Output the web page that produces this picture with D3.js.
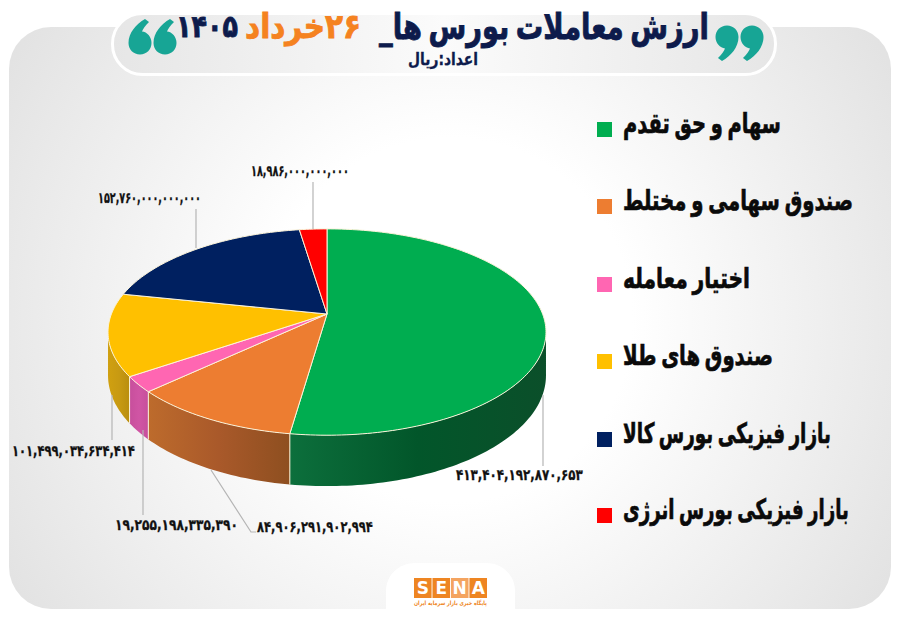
<!DOCTYPE html>
<html><head><meta charset="utf-8">
<script src="https://cdn.jsdelivr.net/npm/d3@7/dist/d3.min.js"></script>
<style>html,body{margin:0;background:#fff}svg{display:block}
text{font-family:"DejaVu Sans",sans-serif;font-weight:700}
.fa{direction:rtl;text-anchor:end}</style></head><body><svg id="c" width="900" height="623"></svg>
<script>
const categories=["سهام و حق تقدم","صندوق سهامی و مختلط","اختیار معامله","صندوق های طلا","بازار فیزیکی بورس کالا","بازار فیزیکی بورس انرژی"];
const values=[413404192870653,84906291902994,19255198335390,101499034634414,152760000000000,18986000000000];
const sliceColors=["#00ad50","#ed7d31","#ff66b2","#ffc000","#002060","#ff0000"];
const wallStops=[["#0c6f3c","#02562a","#0b4f2a"],["#bd6b2c","#a9592a","#8e4f20"],["#c74f9c","#d055a4","#c74f9c"],["#d0a010","#c89a12","#b98e0e"],["#002060","#002060","#002060"],["#c00","#c00","#c00"]];
const legendWidths=[158,230,127,150,208,226];
const legendTops=[122,199,277,354,432,508];
// label layout: text left, baseline, width, leader polyline
const labelBoxes=[
 {x:456,y:480,w:127,line:[[543,395],[543,466]]},
 {x:257,y:532,w:116,line:[[211,470],[251,532],[256,532]]},
 {x:115,y:530,w:123,line:[[143,430],[143,515]]},
 {x:12,y:456,w:123,line:[[112,395],[112,440]]},
 {x:98,y:203,w:103,line:[[196,209],[196,248]]},
 {x:251,y:176,w:98,line:[[313,182],[313,229]]}];

const svg=d3.select("#c"),defs=svg.append("defs");
const faDigits=s=>s.replace(/\d/g,d=>"۰۱۲۳۴۵۶۷۸۹"[+d]);
// fit a text to a width by horizontal scaling about its left edge
const fit=(sel,x,y,w)=>{const k=w/sel.node().getComputedTextLength();
 sel.attr("x",0).attr("y",0).attr("transform",`translate(${x},${y}) scale(${k},1)`);return sel;};

const bg=defs.append("radialGradient").attr("id","bg").attr("gradientUnits","userSpaceOnUse")
 .attr("cx",450).attr("cy",320).attr("r",520);
bg.append("stop").attr("offset",.35).attr("stop-color","#ffffff");
bg.append("stop").attr("offset",1).attr("stop-color","#e2e2e2");
svg.append("rect").attr("x",9).attr("y",27).attr("width",882).attr("height",582).attr("rx",42).attr("fill","url(#bg)");

// title pill
const pg=defs.append("linearGradient").attr("id","pill");
pg.append("stop").attr("offset",0).attr("stop-color","#e6e6e6");
pg.append("stop").attr("offset",.5).attr("stop-color","#fbfbfb");
pg.append("stop").attr("offset",1).attr("stop-color","#e6e6e6");
svg.append("rect").attr("x",112.5).attr("y",13.5).attr("width",663).attr("height",61).attr("rx",30)
 .attr("fill","url(#pill)").attr("stroke","#fff").attr("stroke-width",3);
const comma="M0,-11.5C6.5,-11.5 11.5,-6.5 11.5,0C11.5,10 4,19 -5,24L-9,21C-5,17 -3,14 -2,11.4C-7,11 -11.5,6 -11.5,0C-11.5,-6.5 -6.5,-11.5 0,-11.5Z";
[[727,37,0],[752,37,0],[140,43,180],[165,43,180]].forEach(([x,y,r])=>
 svg.append("path").attr("d",comma).attr("transform",`translate(${x},${y}) rotate(${r})`).attr("fill","#17a595"));
const t=(s,x,y,w,size,col,sw,ws)=>fit(svg.append("text").attr("class","fa").attr("font-size",size)
 .attr("fill",col).attr("stroke",col).attr("stroke-width",sw).style("word-spacing",(ws||0)+"px").text(s),x,y,w);
t("ارزش معاملات بورس ها_",379,39,330,36,"#0d1b4c",.9,-4);
t("۲۶خرداد",245,38,116,34,"#f58220",.9);
t("۱۴۰۵",176,37,62,31,"#0d1b4c",.9);
t("اعداد:ریال",408,65,70,17,"#0d1b4c",.3);

// pie with perspective
const p=0.175, cx=327, cy=314, depth=42;
const xS=d3.scaleLinear().domain([-1,1]).range([cx-215.6,cx+215.6]);
const yS=d3.scaleLinear().domain([-1,1]).range([cy-100,cy+100]);
const proj=(a,r,dz)=>{const u=r*Math.sin(a),v=-r*Math.cos(a),s=1/(1-p*v);
 return [cx+(xS(u)-cx)*s, cy+(yS(v)-cy)*s+dz*s];};
const pieGen=d3.pie().sort(null).value(d=>d);
const arcs=pieGen(values);
const line=d3.line();
const sample=(a0,a1)=>{const n=Math.max(2,Math.ceil((a1-a0)/0.02));return d3.range(n+1).map(i=>a0+(a1-a0)*i/n);};
const edge="#fbf3d9";
const visA0=Math.acos(-p), visA1=2*Math.PI-visA0;

arcs.forEach((d,i)=>{
 const a0=Math.max(d.startAngle,visA0),a1=Math.min(d.endAngle,visA1);
 if(a1<=a0)return;
 const g=defs.append("linearGradient").attr("id","w"+i);
 wallStops[i].forEach((c,j)=>g.append("stop").attr("offset",j/2).attr("stop-color",c));
 const as=sample(a0,a1);
 const pts=as.map(a=>proj(a,1,0)).concat(as.slice().reverse().map(a=>proj(a,1,depth)));
 svg.append("path").attr("d",line(pts)+"Z").attr("fill",`url(#w${i})`);
 svg.append("path").attr("d",line([proj(a0,1,0),proj(a0,1,depth)])).attr("stroke",edge).attr("stroke-width",i?1:0).attr("fill","none");
});
arcs.forEach((d,i)=>{
 const pts=[[cx,cy]].concat(sample(d.startAngle,d.endAngle).map(a=>proj(a,1,0)));
 svg.append("path").attr("d",line(pts)+"Z").attr("fill",sliceColors[i]).attr("stroke",edge).attr("stroke-width",1);
});

// leaders + labels
labelBoxes.forEach((b,i)=>{
 svg.append("path").attr("d",line(b.line)).attr("fill","none").attr("stroke","#b5b5b5").attr("stroke-width",1.2);
 fit(svg.append("text").attr("font-size",15).attr("fill","#111").attr("stroke","#111").attr("stroke-width",.3)
  .style("direction","ltr").text(faDigits(d3.format(",d")(values[i]))),b.x,b.y,b.w);
});

// legend
categories.forEach((c,i)=>{
 svg.append("rect").attr("x",597).attr("y",legendTops[i]).attr("width",15).attr("height",15).attr("fill",sliceColors[i]);
 t(c,623,legendTops[i]+11,legendWidths[i],28,"#0a0a0a",.7,-3);
});

// logo
svg.append("path").attr("d","M386,609V591C386,575 399,563 415,563H486C502,563 515,575 515,591V609Z").attr("fill","#fff");
const logoX=d3.scaleBand().domain(["S","E","N","A"]).range([414,487]).paddingInner(.05);
logoX.domain().forEach(l=>{
 svg.append("rect").attr("x",logoX(l)).attr("y",578).attr("width",logoX.bandwidth()).attr("height",20).attr("fill",l==="N"?"#f4a460":"#ee8522");
 svg.append("text").attr("x",logoX(l)+logoX.bandwidth()/2).attr("y",594).attr("text-anchor","middle").attr("font-size",17).attr("fill","#fff").text(l);
});
t("پایگاه خبری بازار سرمایه ایران",414,605,73,6,"#ee8522",0);
</script></body></html>
